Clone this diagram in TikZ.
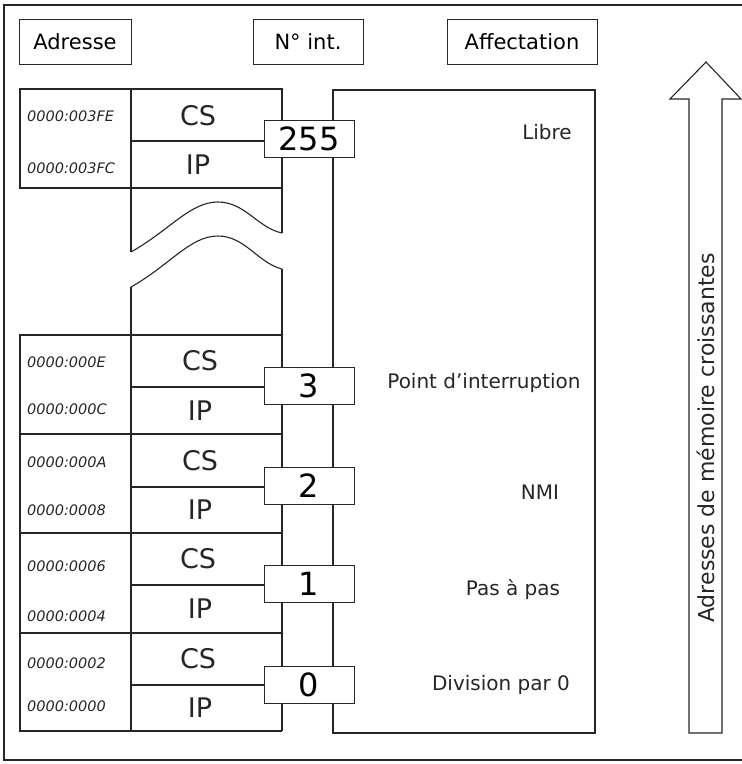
\documentclass[tikz,border=0pt]{standalone}
\usepackage{fontspec}
\setmainfont{DejaVu Sans}
\usepackage{xcolor}
\usepackage{tikz}
\usetikzlibrary{positioning, calc}
\definecolor{ivtInk}{HTML}{262626}
\tikzset{
  headbox/.style={
    rectangle, draw=ivtInk, line width=1pt,
    minimum height=45pt, inner sep=0pt,
    font=\fontsize{21}{24}\selectfont
  },
  numbox/.style={
    rectangle, draw=ivtInk, line width=1pt, fill=white,
    minimum width=90pt, minimum height=37pt, inner sep=0pt,
    font=\fontsize{32}{34}\selectfont
  },
  addrlabel/.style={anchor=west, inner sep=0pt, text=ivtInk,
    font=\fontsize{14.5}{16}\selectfont\itshape},
  reglabel/.style={inner sep=0pt, text=ivtInk,
    font=\fontsize{27}{30}\selectfont},
  usagelabel/.style={inner sep=0pt, text=ivtInk,
    font=\fontsize{20}{24}\selectfont},
  wire/.style={draw=ivtInk, line width=1.1pt},
  frameline/.style={draw=ivtInk, line width=1.4pt}
}

\begin{document}
\begin{tikzpicture}[x=1pt, y=-1pt]
  \useasboundingbox (0,0) rectangle (742,764);
  \draw[frameline] (4,5) rectangle (750,760);

  % column headings
  \node[headbox, minimum width=112pt] (hAddr) at (75,42) {Adresse};
  \node[headbox, minimum width=110pt] (hNum) at (308,42) {N° int.};
  \node[headbox, minimum width=150pt] (hUse) at (522,42) {Affectation};

  % vector table, top entry
  \draw[wire] (20,89) rectangle (131,188);
  \draw[wire] (131,89) -- (282,89) -- (282,233);
  \draw[wire] (131,188) -- (282,188);
  \draw[wire] (131,89) -- (131,252);
  % break in the table
  \draw[wire] (131,252) .. controls (170,230) and (190,202) .. (218,202)
                        .. controls (245,202) and (258,228) .. (282,233);
  \draw[wire] (131,287) .. controls (170,265) and (190,236) .. (218,236)
                        .. controls (245,236) and (258,263) .. (282,269);
  \draw[wire] (131,287) -- (131,731);
  \draw[wire] (282,269) -- (282,731);
  % vector table, entries 3 to 0
  \draw[wire] (20,335) rectangle (131,731);
  \draw[wire] (131,335) -- (282,335);
  \draw[wire] (20,434) -- (282,434);
  \draw[wire] (20,533) -- (282,533);
  \draw[wire] (20,633) -- (282,633);
  \draw[wire] (131,731) -- (282,731);

  % assignment area (its left side is the bus)
  \draw[frameline] (333,90) rectangle (595,733);

  % interrupt numbers
  \node[numbox] (n255) at (309,139) {255};
  \node[numbox] (n3) at (309,386) {3};
  \node[numbox] (n2) at (309,486) {2};
  \node[numbox] (n1) at (309,584) {1};
  \node[numbox] (n0) at (309,685) {0};

  \coordinate (d255) at (131,141);
  \coordinate (d3) at (131,387);
  \coordinate (d2) at (131,487);
  \coordinate (d1) at (131,585);
  \coordinate (d0) at (131,685);
  \draw[wire] (d255) -- (d255 -| n255.west);
  \draw[wire] (d3) -- (d3 -| n3.west);
  \draw[wire] (d2) -- (d2 -| n2.west);
  \draw[wire] (d1) -- (d1 -| n1.west);
  \draw[wire] (d0) -- (d0 -| n0.west);

  % addresses
  \node[addrlabel] (a3FE) at (27,116) {0000:003FE};
  \node[addrlabel] (a3FC) at (27,168) {0000:003FC};
  \node[addrlabel] (a0E) at (27,362) {0000:000E};
  \node[addrlabel] (a0C) at (27,409) {0000:000C};
  \node[addrlabel] (a0A) at (27,462) {0000:000A};
  \node[addrlabel] (a08) at (27,510) {0000:0008};
  \node[addrlabel] (a06) at (27,566) {0000:0006};
  \node[addrlabel] (a04) at (27,616) {0000:0004};
  \node[addrlabel] (a02) at (27,663) {0000:0002};
  \node[addrlabel] (a00) at (27,706) {0000:0000};

  % segment and offset words
  \node[reglabel] (cs255) at (198,116) {CS};
  \node[reglabel] (ip255) at (198,165) {IP};
  \node[reglabel] (cs3) at (200,361) {CS};
  \node[reglabel] (ip3) at (200,411) {IP};
  \node[reglabel] (cs2) at (200,461) {CS};
  \node[reglabel] (ip2) at (200,510) {IP};
  \node[reglabel] (cs1) at (198,559) {CS};
  \node[reglabel] (ip1) at (200,609) {IP};
  \node[reglabel] (cs0) at (198,659) {CS};
  \node[reglabel] (ip0) at (200,708) {IP};

  % assignments
  \node[usagelabel] (uFree) at (547,132) {Libre};
  \node[usagelabel] (uBreak) at (484,383) {Point d'interruption};
  \node[usagelabel] (uNmi) at (540,492) {NMI};
  \node[usagelabel] (uStep) at (513,590) {Pas à pas};
  \node[usagelabel] (uDiv) at (501,685) {Division par 0};

  % growing addresses
  \draw[wire] (689,733) -- (689,99) -- (670,99) -- (706,62)
              -- (741,99) -- (722,99) -- (722,733) -- cycle;
  \node[usagelabel, rotate=90, font=\fontsize{22}{24}\selectfont] (upText) at (706,438)
    {Adresses de mémoire croissantes};
\end{tikzpicture}
\end{document}
